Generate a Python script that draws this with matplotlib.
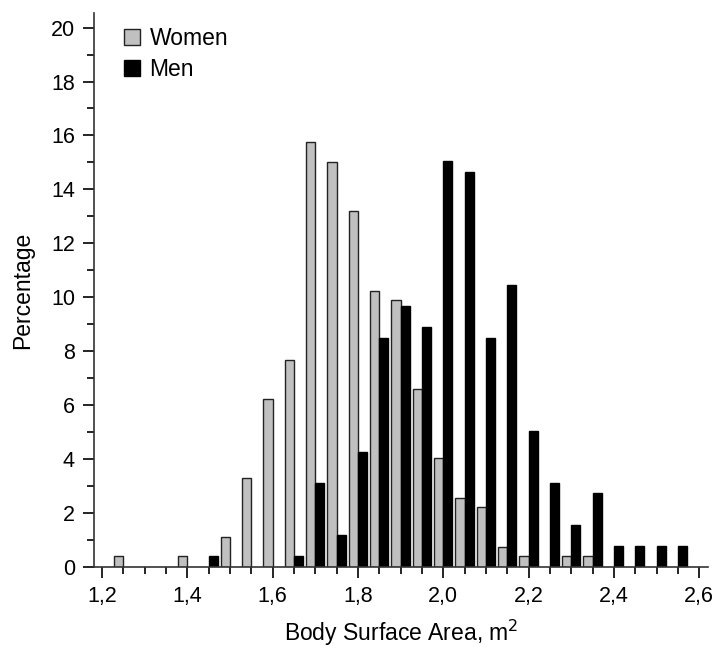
import numpy as np
import matplotlib.pyplot as plt
from matplotlib.ticker import MultipleLocator, FuncFormatter

plt.rcParams['font.family'] = ['Liberation Sans', 'DejaVu Sans']

# bin centres (m^2) and percentages
bsa = [1.25, 1.30, 1.35, 1.40, 1.45, 1.50, 1.55, 1.60, 1.65, 1.70, 1.75, 1.80,
       1.85, 1.90, 1.95, 2.00, 2.05, 2.10, 2.15, 2.20, 2.25, 2.30, 2.35, 2.40,
       2.45, 2.50, 2.55]
women = [0.38, 0, 0, 0.38, 0, 1.09, 3.29, 6.21, 7.68, 15.75, 15.0, 13.19,
         10.24, 9.88, 6.6, 4.03, 2.56, 2.21, 0.74, 0.40, 0, 0.40, 0.40, 0,
         0, 0, 0]
men = [0, 0, 0, 0, 0.40, 0, 0, 0, 0.40, 3.12, 1.18, 4.27,
       8.5, 9.66, 8.88, 15.05, 14.66, 8.5, 10.44, 5.03, 3.12, 1.56, 2.72, 0.78,
       0.78, 0.78, 0.78]

x = np.array(bsa)
W = np.array(women)
M = np.array(men)
w = 0.0215  # bar width, women left of bin tick, men right of it

fig = plt.figure(figsize=(7.2, 6.49), dpi=100)
ax = fig.add_axes([0.131, 0.1268, 0.983 - 0.131, 0.9795 - 0.1268])

ax.bar(x[W > 0] - w, W[W > 0], width=w, align='edge', color='#c0c0c0',
       edgecolor='#222222', linewidth=1.0, label='Women')
ax.bar(x[M > 0], M[M > 0], width=w, align='edge', color='black',
       edgecolor='black', linewidth=1.0, label='Men')

ax.set_xlim(1.182, 2.62)
ax.set_ylim(0, 20.53)
ax.xaxis.set_major_locator(MultipleLocator(0.2))
ax.xaxis.set_minor_locator(MultipleLocator(0.05))
ax.yaxis.set_major_locator(MultipleLocator(2))
ax.yaxis.set_minor_locator(MultipleLocator(1))
ax.xaxis.set_major_formatter(FuncFormatter(lambda v, p: ('%.1f' % v).replace('.', ',')))
ax.tick_params(which='major', direction='out', length=8, width=1.2, labelsize=15.5, pad=6)
ax.tick_params(which='minor', direction='out', length=5, width=1.2)

for s in ['top', 'right']:
    ax.spines[s].set_visible(False)
for s in ['left', 'bottom']:
    ax.spines[s].set_linewidth(1.2)
    ax.spines[s].set_color('#333333')

ax.set_xlabel('Body Surface Area, m$^2$', fontsize=16.5, labelpad=8)
ax.set_ylabel('Percentage', fontsize=16.5, labelpad=12)

ax.legend(loc='upper left', bbox_to_anchor=(0.049, 0.975), frameon=False,
          fontsize=16.5, handlelength=0.7, handleheight=0.7, handletextpad=0.4,
          labelspacing=0.35, borderpad=0, borderaxespad=0)

fig.savefig('out.png', dpi=100)
